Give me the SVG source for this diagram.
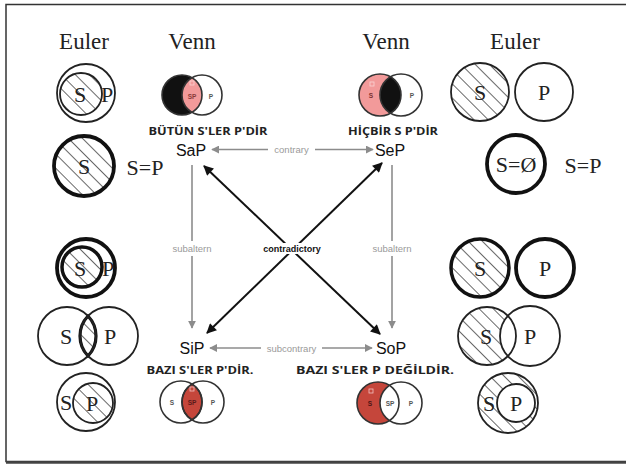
<svg xmlns="http://www.w3.org/2000/svg" width="626" height="468" viewBox="0 0 626 468">
<style>
.hd{font-family:"Liberation Serif",serif;font-size:23px;fill:#222;text-anchor:middle}
.lt{font-family:"Liberation Serif",serif;font-size:22px;fill:#222;text-anchor:middle;dominant-baseline:central}
.c{fill:none;stroke:#222;stroke-width:1.8}
.ck{fill:none;stroke:#111;stroke-width:3.8}
.vc{fill:none;stroke:#333;stroke-width:1.6}
.node{font-family:"Liberation Sans",Arial,sans-serif;font-size:16px;fill:#111;text-anchor:middle;dominant-baseline:central}
.tr{font-family:"Open Sans","Liberation Sans",sans-serif;font-weight:bold;font-size:11px;fill:#222;text-anchor:middle}
.gl{font-family:"Liberation Sans",Arial,sans-serif;font-size:9.5px;fill:#9a9a9a;text-anchor:middle;dominant-baseline:central}
.vt{font-family:"Liberation Sans",Arial,sans-serif;font-size:6.5px;font-weight:bold;fill:#555;text-anchor:middle;dominant-baseline:central}
.ga{stroke:#8c8c8c;stroke-width:1.6;fill:none}
.ba{stroke:#111;stroke-width:2;fill:none}
</style>
<defs>
<pattern id="hatch" patternUnits="userSpaceOnUse" width="10" height="10" patternTransform="rotate(-45)">
<rect width="10" height="10" fill="#fff"/>
<line x1="0" y1="0" x2="0" y2="10" stroke="#2a2a2a" stroke-width="1.4"/>
</pattern>
<marker id="gArr" viewBox="0 0 10 10" refX="9" refY="5" markerWidth="8" markerHeight="8" markerUnits="userSpaceOnUse" orient="auto-start-reverse">
<path d="M0,0 L10,5 L0,10 Z" fill="#8c8c8c"/>
</marker>
<marker id="bArr" viewBox="0 0 10 10" refX="9" refY="5" markerWidth="11" markerHeight="10" markerUnits="userSpaceOnUse" orient="auto-start-reverse">
<path d="M0,0 L10,5 L0,10 Z" fill="#111"/>
</marker>
</defs>
<rect x="0" y="0" width="626" height="468" fill="#fff"/>
<g id="frame">
<rect x="6" y="4.5" width="630" height="457" fill="none" stroke="#333" stroke-width="1.5"/>
<line x1="6" y1="462.5" x2="626" y2="462.5" stroke="#444" stroke-width="2.5"/>
</g>
<g id="headers">
<text class="hd" x="84" y="49">Euler</text>
<text class="hd" x="192" y="49">Venn</text>
<text class="hd" x="386" y="49">Venn</text>
<text class="hd" x="515" y="49">Euler</text>
</g>
<!-- Left Euler column -->
<g id="euler-sap-1">
<circle cx="86" cy="93" r="29" class="c" fill="#fff"/>
<circle cx="81" cy="94" r="21" fill="url(#hatch)" stroke="#222" stroke-width="1.8"/>
<text class="lt" x="80" y="94">S</text>
<text class="lt" x="107" y="94">P</text>
</g>
<g id="euler-sap-2">
<circle cx="84" cy="166" r="30" fill="url(#hatch)" stroke="#111" stroke-width="3.8"/>
<text class="lt" x="84" y="166">S</text>
<text class="lt" x="145" y="167">S=P</text>
</g>
<g id="euler-sip-1">
<circle cx="86" cy="268" r="29" class="ck"/>
<circle cx="82" cy="267" r="20" fill="url(#hatch)" stroke="#111" stroke-width="3.5"/>
<text class="lt" x="80" y="268">S</text>
<text class="lt" x="108" y="268">P</text>
</g>
<g id="euler-sip-2">
<path d="M88,316 A29,29 0 0,1 88,356 A29,29 0 0,1 88,316 Z" fill="url(#hatch)" stroke="#111" stroke-width="3.2"/>
<circle cx="67" cy="336" r="29" class="c"/>
<circle cx="109" cy="336" r="29" class="c"/>
<text class="lt" x="66" y="336">S</text>
<text class="lt" x="110" y="336">P</text>
</g>
<g id="euler-sip-3">
<circle cx="86" cy="402" r="29" class="c"/>
<circle cx="93" cy="403" r="20" fill="url(#hatch)" stroke="#222" stroke-width="1.8"/>
<text class="lt" x="66" y="402">S</text>
<text class="lt" x="92" y="403">P</text>
</g>
<!-- Right Euler column -->
<g id="euler-sep-1">
<circle cx="480" cy="92" r="29" fill="url(#hatch)" stroke="#222" stroke-width="1.8"/>
<circle cx="544" cy="92" r="29" class="c"/>
<text class="lt" x="480" y="92">S</text>
<text class="lt" x="544" y="92">P</text>
</g>
<g id="euler-sep-2">
<circle cx="516" cy="164" r="29" class="ck"/>
<text class="lt" x="516" y="164">S=Ø</text>
<text class="lt" x="583" y="165">S=P</text>
</g>
<g id="euler-sop-1">
<circle cx="480" cy="268" r="29" fill="url(#hatch)" stroke="#111" stroke-width="3.5"/>
<circle cx="545" cy="268" r="29" class="ck"/>
<text class="lt" x="480" y="268">S</text>
<text class="lt" x="545" y="268">P</text>
</g>
<g id="euler-sop-2">
<circle cx="487" cy="336" r="29" fill="url(#hatch)"/>
<circle cx="530" cy="336" r="30" fill="#fff" stroke="#222" stroke-width="1.8"/>
<circle cx="487" cy="336" r="29" class="c"/>
<text class="lt" x="486" y="336">S</text>
<text class="lt" x="530" y="336">P</text>
</g>
<g id="euler-sop-3">
<circle cx="508" cy="403" r="30" fill="url(#hatch)" stroke="#222" stroke-width="1.8"/>
<circle cx="516" cy="403" r="19" fill="#fff" stroke="#222" stroke-width="1.8"/>
<text class="lt" x="489" y="403">S</text>
<text class="lt" x="516" y="403">P</text>
</g>
<!-- Venn diagrams -->
<g id="venn-sap">
<path d="M192,77.68 A20,20 0 1,0 192,112.32 A20,20 0 0,1 192,77.68 Z" fill="#111"/>
<path d="M192,77.68 A20,20 0 0,1 192,112.32 A20,20 0 0,1 192,77.68 Z" fill="#f29a9a"/>
<circle cx="182" cy="95" r="20" class="vc"/>
<circle cx="202" cy="95" r="20" class="vc"/>
<rect x="190" y="81" width="4" height="4" fill="none" stroke="#fbd4d4" stroke-width="0.8"/>
<text class="vt" x="192" y="96" style="fill:#8a3a3a">SP</text>
<text class="vt" x="211" y="96">P</text>
</g>
<g id="venn-sep">
<path d="M390.5,76.81 A21,21 0 1,0 390.5,113.19 A21,21 0 0,1 390.5,76.81 Z" fill="#f29a9a"/>
<path d="M390.5,76.81 A21,21 0 0,1 390.5,113.19 A21,21 0 0,1 390.5,76.81 Z" fill="#111"/>
<circle cx="380" cy="95" r="21" class="vc"/>
<circle cx="401" cy="95" r="21" class="vc"/>
<rect x="370" y="82" width="4" height="4" fill="none" stroke="#fbd4d4" stroke-width="0.8"/>
<text class="vt" x="371" y="95" style="fill:#7a3030">S</text>
<text class="vt" x="412" y="95">P</text>
</g>
<g id="venn-sip">
<path d="M192,384.11 A21,21 0 0,1 192,419.89 A21,21 0 0,1 192,384.11 Z" fill="#c5463b" stroke="#222" stroke-width="1.6"/>
<circle cx="181" cy="402" r="21" class="vc"/>
<circle cx="203" cy="402" r="21" class="vc"/>
<rect x="190" y="387" width="4" height="4" fill="none" stroke="#f2c0c0" stroke-width="0.8"/>
<text class="vt" x="172" y="402">S</text>
<text class="vt" x="192" y="402" style="fill:#5a1a1a">SP</text>
<text class="vt" x="213" y="402">P</text>
</g>
<g id="venn-sop">
<path d="M389.5,385.43 A21,21 0 1,0 389.5,420.57 A21,21 0 0,1 389.5,385.43 Z" fill="#c5463b"/>
<circle cx="378" cy="403" r="21" class="vc"/>
<circle cx="401" cy="403" r="21" class="vc"/>
<rect x="369" y="389" width="4" height="4" fill="none" stroke="#f2c0c0" stroke-width="0.8"/>
<text class="vt" x="370" y="403" style="fill:#4a1515">S</text>
<text class="vt" x="390" y="403">SP</text>
<text class="vt" x="411" y="403">P</text>
</g>
<!-- Statement labels -->
<g id="label-sap"><text class="tr" x="208" y="135" textLength="119" lengthAdjust="spacingAndGlyphs">BÜTÜN S'LER P'DİR</text></g>
<g id="label-sep"><text class="tr" x="393" y="135" textLength="90" lengthAdjust="spacingAndGlyphs">HİÇBİR S P'DİR</text></g>
<g id="label-sip"><text class="tr" x="200" y="374" textLength="107" lengthAdjust="spacingAndGlyphs">BAZI S'LER P'DİR.</text></g>
<g id="label-sop"><text class="tr" x="375" y="374" textLength="158" lengthAdjust="spacingAndGlyphs">BAZI S'LER P DEĞİLDİR.</text></g>
<!-- Square nodes -->
<g id="node-sap"><text class="node" x="191" y="150">SaP</text></g>
<g id="node-sep"><text class="node" x="390" y="150">SeP</text></g>
<g id="node-sip"><text class="node" x="192" y="348">SiP</text></g>
<g id="node-sop"><text class="node" x="391" y="348">SoP</text></g>
<!-- Connectors -->
<g id="connectors">
<line class="ga" x1="212" y1="149.5" x2="268" y2="149.5" marker-start="url(#gArr)"/>
<line class="ga" x1="315" y1="149.5" x2="373" y2="149.5" marker-end="url(#gArr)"/>
<text class="gl" x="291.5" y="149.5">contrary</text>
<line class="ga" x1="210" y1="348" x2="261" y2="348" marker-start="url(#gArr)"/>
<line class="ga" x1="322" y1="348" x2="372" y2="348" marker-end="url(#gArr)"/>
<text class="gl" x="291.5" y="348">subcontrary</text>
<line class="ga" x1="192" y1="165" x2="192" y2="241"/>
<line class="ga" x1="192" y1="256" x2="192" y2="328" marker-end="url(#gArr)"/>
<text class="gl" x="192" y="248">subaltern</text>
<line class="ga" x1="392" y1="165" x2="392" y2="241"/>
<line class="ga" x1="392" y1="256" x2="392" y2="328" marker-end="url(#gArr)"/>
<text class="gl" x="392" y="248">subaltern</text>
<line class="ba" x1="204" y1="166" x2="380" y2="334" marker-start="url(#bArr)" marker-end="url(#bArr)"/>
<line class="ba" x1="382" y1="163" x2="207" y2="333" marker-start="url(#bArr)" marker-end="url(#bArr)"/>
<rect x="262" y="243" width="60" height="11" fill="#fff"/>
<text x="292" y="248.5" font-family="Liberation Sans,Arial,sans-serif" font-size="9px" font-weight="bold" fill="#111" text-anchor="middle" dominant-baseline="central">contradictory</text>
</g>
</svg>
